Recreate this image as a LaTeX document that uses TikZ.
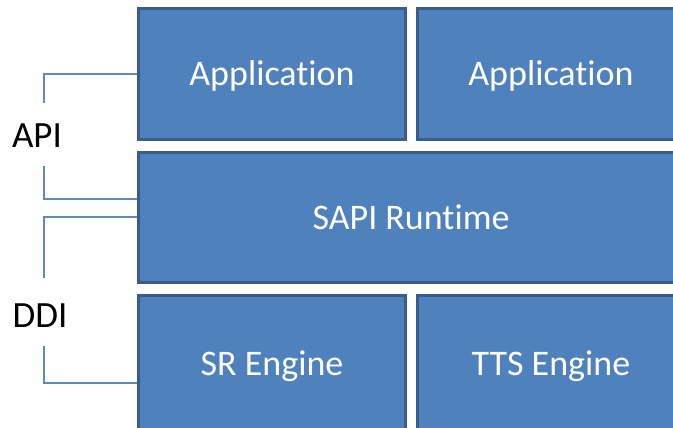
\documentclass[tikz,border=0pt]{standalone}
\usepackage{fontspec}
\setmainfont{Carlito}[Ligatures=NoCommon]
\definecolor{boxfill}{HTML}{4F81BD}
\definecolor{boxedge}{HTML}{385D8A}
\definecolor{wire}{HTML}{5B8BC6}
\begin{document}
\begin{tikzpicture}[x=1pt,y=-1pt,
  layer/.style={draw=boxedge, line width=3pt, fill=boxfill, text=white,
    inner sep=0pt, text height=23pt, text depth=0pt,
    font=\fontsize{36}{40}\selectfont},
  halfbox/.style={layer, minimum width=267pt, minimum height=131pt},
  tag/.style={font=\fontsize{37}{40}\selectfont, text=black, inner sep=0pt},
  wireline/.style={draw=wire, line width=1.5pt}]
\useasboundingbox (0,0) rectangle (673,428);
% stacked layers
\node[halfbox] (app1) at (272,74) {Application};
\node[halfbox] (app2) at (551,74) {Application};
\node[layer, minimum width=545pt, minimum height=130pt] (sapi) at (411,217.5) {SAPI Runtime};
\node[halfbox, minimum height=136pt] (sr) at (272,363.5) {SR Engine};
\node[halfbox, minimum height=136pt] (tts) at (551,363.5) {TTS Engine};
% interface labels
\node[tag] (api) at (37,136) {API};
\node[tag] (ddi) at (40,316) {DDI};
% bracket end points
\coordinate (apiA) at (44,103);
\coordinate (apiB) at (44,166);
\coordinate (ddiA) at (44,278);
\coordinate (ddiB) at (44,346);
% API bracket
\draw[wireline] (app1.west |- 0,74) -- (44,74) -- (apiA);
\draw[wireline] (apiB) -- (44,199) -- (sapi.west |- 0,199);
% DDI bracket
\draw[wireline] (sapi.west |- 0,217) -- (44,217) -- (ddiA);
\draw[wireline] (ddiB) -- (44,383) -- (sr.west |- 0,383);
\end{tikzpicture}
\end{document}
